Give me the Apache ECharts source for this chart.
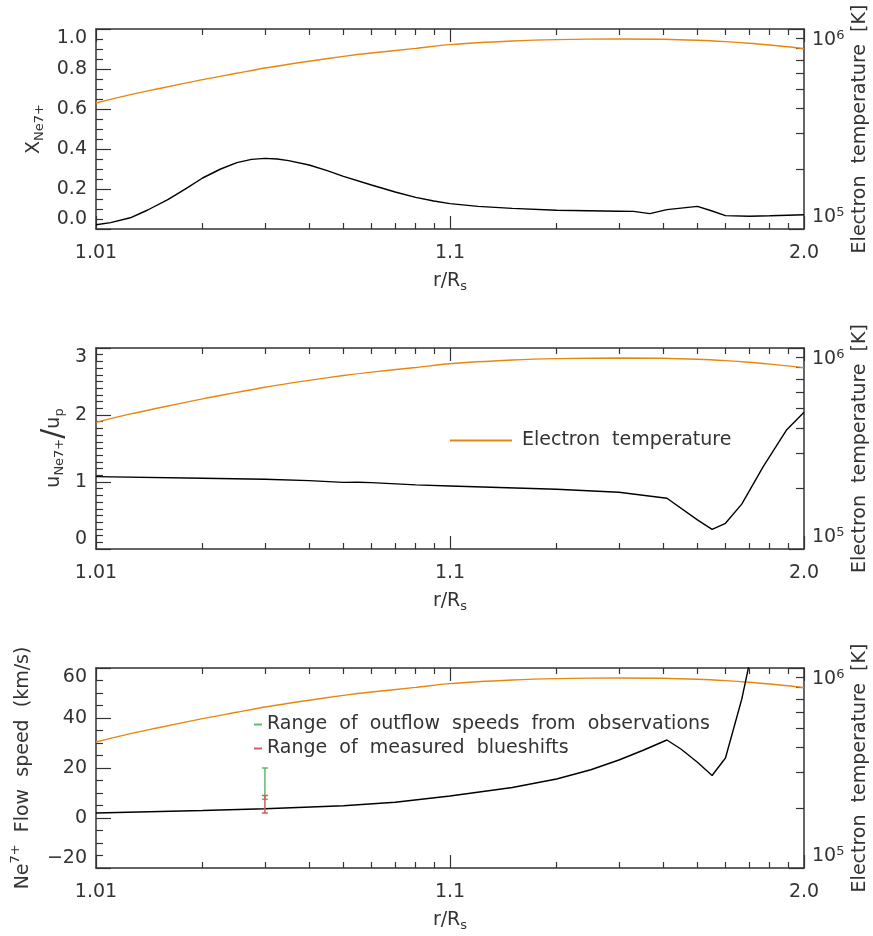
<!DOCTYPE html>
<html><head><meta charset="utf-8">
<script src="https://cdn.jsdelivr.net/npm/echarts@6/dist/echarts.min.js"></script>
<style>html,body{margin:0;padding:0;background:#fff}#c{width:873px;height:936px}</style>
</head><body><div id="c"></div>
<script>
// ---------------- data ----------------
// Electron temperature [K] vs r/Rs (same curve in all three panels)
const rTe = [1.01, 1.0125, 1.015, 1.02, 1.025, 1.03, 1.04, 1.05, 1.06, 1.08, 1.1, 1.15, 1.2, 1.3, 1.4, 1.5, 1.6, 1.7, 1.8, 1.9, 2.0];
const Te  = [426600, 469900, 502900, 558500, 601200, 638300, 690200, 729500, 758600, 799800, 835600, 871000, 885100, 891300, 889200, 879000, 865000, 849200, 831800, 814700, 796200];

// Panel 1: Ne7+ ion fraction
const rX  = [1.01, 1.011, 1.0125, 1.014, 1.016, 1.018, 1.02, 1.0225, 1.025, 1.0275, 1.03, 1.0325, 1.035, 1.04, 1.045, 1.05, 1.06, 1.07, 1.08, 1.09, 1.1, 1.12, 1.15, 1.2, 1.3, 1.33, 1.367, 1.41, 1.5, 1.55, 1.6, 1.7, 1.8, 1.9, 2.0];
const xNe = [0.021, 0.032, 0.056, 0.095, 0.148, 0.203, 0.255, 0.300, 0.332, 0.348, 0.353, 0.350, 0.342, 0.320, 0.292, 0.263, 0.220, 0.185, 0.158, 0.140, 0.127, 0.113, 0.103, 0.094, 0.089, 0.088, 0.077, 0.097, 0.113, 0.090, 0.067, 0.064, 0.066, 0.069, 0.0715];

// Panel 2: u_Ne7+ / u_p
const rU  = [1.01, 1.02, 1.03, 1.04, 1.05, 1.055, 1.06, 1.08, 1.1, 1.2, 1.3, 1.41, 1.5, 1.55, 1.6, 1.667, 1.767, 1.894, 2.0];
const uRatio = [1.08, 1.055, 1.04, 1.02, 0.995, 0.997, 0.99, 0.957, 0.94, 0.892, 0.848, 0.758, 0.434, 0.294, 0.384, 0.67, 1.23, 1.78, 2.04];

// Panel 3: Ne7+ flow speed (km/s)
const rV  = [1.01, 1.02, 1.03, 1.05, 1.07, 1.1, 1.15, 1.2, 1.25, 1.3, 1.35, 1.41, 1.45, 1.5, 1.55, 1.6, 1.667, 1.767];
const vFlow = [2.0, 3.0, 3.7, 4.9, 6.3, 8.8, 12.2, 15.6, 19.3, 23.2, 27.0, 31.2, 27.5, 22.3, 17.0, 24.0, 47.5, 88];

// Observation ranges (error bars) at r = 1.03
const errR = 1.03;
const outflowRange = [7.5, 20];
const blueshiftRange = [2, 9];

// axis ranges / ticks (x axis is logarithmic in r-1)
const xTicksRminus1 = [0.01, 0.1, 1];
const yRanges = [[0, 1, 0.2], [0, 3, 1], [-20, 60, 20]];
const TeRange = [1e5, 1e6];

// ---------------- styling ----------------
const FONT = 'DejaVu Sans';
const TXT = '#333';
const AX = '#333';
const ORANGE = '#E8870E';
const GREEN = '#5DBB6F';
const RED = '#D65A5A';
const LEFT = 96, RIGHT = 69;
const GRIDS = [{top: 29, height: 200}, {top: 348, height: 201}, {top: 668, height: 200}];
const minorSplit = [4, 10, 4];

function xFmt(v) {
  const r = 1 + v;
  return v >= 0.999 ? r.toFixed(1) : String(parseFloat(r.toPrecision(6)));
}
function yFmt(i) {
  return function (v) {
    if (i === 0) return v.toFixed(1);
    if (v < 0) return '\u2212' + Math.abs(v);
    return String(v);
  };
}
const lbl = {fontFamily: FONT, fontSize: 19, color: TXT};
const noDeco = {axisLine: {show: false}, axisTick: {show: false}, minorTick: {show: false}, splitLine: {show: false}, minorSplitLine: {show: false}};
const tickLine = {color: AX, width: 1.2};

const grid = GRIDS.map(g => ({left: LEFT, right: RIGHT, top: g.top, height: g.height}));

// per grid: xAxis [3i] bottom ticks, [3i+1] top ticks, [3i+2] labels
//           yAxis [4i] left ticks, [4i+1] right ticks, [4i+2] left labels, [4i+3] right labels
const xAxis = [];
const yAxis = [];
const xBase = () => ({type: 'log', logBase: 10, min: xTicksRminus1[0], max: xTicksRminus1[xTicksRminus1.length - 1]});
GRIDS.forEach((g, i) => {
  const yr = yRanges[i];
  ['bottom', 'top'].forEach(pos => {
    xAxis.push(Object.assign(xBase(), {
      gridIndex: i, position: pos,
      axisLine: {show: true, onZero: false, lineStyle: {color: AX, width: 1.5}},
      axisTick: {show: true, inside: true, length: 13, lineStyle: tickLine},
      minorTick: {show: true, splitNumber: 9, length: 6, lineStyle: tickLine},
      axisLabel: {show: false},
      splitLine: {show: false}, minorSplitLine: {show: false}
    }));
  });
  xAxis.push(Object.assign(xBase(), noDeco, {
    gridIndex: i, position: 'bottom',
    axisLabel: Object.assign({show: true, margin: 15, formatter: xFmt}, lbl)
  }));

  yAxis.push({
    type: 'value', gridIndex: i, position: 'left', min: yr[0], max: yr[1], interval: yr[2],
    axisLine: {show: true, onZero: false, lineStyle: {color: AX, width: 1.5}},
    axisTick: {show: true, inside: true, length: 15, lineStyle: tickLine},
    minorTick: {show: true, splitNumber: minorSplit[i], length: 7, lineStyle: tickLine},
    axisLabel: {show: false},
    splitLine: {show: false}, minorSplitLine: {show: false}
  });
  yAxis.push({
    type: 'log', logBase: 10, gridIndex: i, position: 'right', min: TeRange[0], max: TeRange[1],
    axisLine: {show: true, onZero: false, lineStyle: {color: AX, width: 1.5}},
    axisTick: {show: true, inside: true, length: 15, lineStyle: tickLine},
    minorTick: {show: true, splitNumber: 9, length: 8, lineStyle: tickLine},
    axisLabel: {show: false},
    splitLine: {show: false}, minorSplitLine: {show: false}
  });
  yAxis.push(Object.assign({type: 'value', gridIndex: i, position: 'left', min: yr[0], max: yr[1], interval: yr[2]}, noDeco, {
    axisLabel: Object.assign({show: true, margin: 9, formatter: yFmt(i),
      verticalAlignMinLabel: 'bottom', verticalAlignMaxLabel: 'top'}, lbl)
  }));
  yAxis.push(Object.assign({type: 'log', logBase: 10, gridIndex: i, position: 'right', min: TeRange[0], max: TeRange[1]}, noDeco, {
    axisLabel: {show: true, margin: 8,
      verticalAlignMinLabel: 'bottom', verticalAlignMaxLabel: 'top',
      formatter: v => '{b|10}{sup|' + Math.round(Math.log10(v)) + '}',
      rich: {b: {fontFamily: FONT, fontSize: 19, color: TXT}, sup: {fontFamily: FONT, fontSize: 13, color: TXT, padding: [0, 0, 10, 0]}}}
  }));
});

const pairs = (rs, vs) => rs.map((r, k) => [r - 1, vs[k]]);
const blackLine = {color: '#000', width: 1.4};

function errBar(color) {
  return function (params, api) {
    const x = api.value(0);
    const lo = api.coord([x, api.value(1)]);
    const hi = api.coord([x, api.value(2)]);
    const w = 3;
    const st = {stroke: color, lineWidth: 1.5};
    return {type: 'group', children: [
      {type: 'line', shape: {x1: lo[0], y1: lo[1], x2: hi[0], y2: hi[1]}, style: st},
      {type: 'line', shape: {x1: lo[0] - w, y1: lo[1], x2: lo[0] + w, y2: lo[1]}, style: st},
      {type: 'line', shape: {x1: hi[0] - w, y1: hi[1], x2: hi[0] + w, y2: hi[1]}, style: st}
    ]};
  };
}

const series = [];
const blackData = [pairs(rX, xNe), pairs(rU, uRatio), pairs(rV, vFlow)];
GRIDS.forEach((g, i) => {
  series.push({type: 'line', name: 'Electron  temperature', xAxisIndex: 3 * i, yAxisIndex: 4 * i + 1,
    data: pairs(rTe, Te), smooth: 0.3, showSymbol: false, symbol: 'none', lineStyle: {color: ORANGE, width: 1.4}, itemStyle: {color: ORANGE}, z: 3});
  series.push({type: 'line', name: 'model' + i, xAxisIndex: 3 * i, yAxisIndex: 4 * i,
    data: blackData[i], smooth: false, showSymbol: false, symbol: 'none', lineStyle: blackLine, itemStyle: {color: '#000'}, clip: true, z: 4});
});
const NAME_OUT = 'Range  of  outflow  speeds  from  observations';
const NAME_BLUE = 'Range  of  measured  blueshifts';
series.push({type: 'custom', name: NAME_OUT, xAxisIndex: 6, yAxisIndex: 8,
  itemStyle: {color: GREEN}, data: [[errR - 1, outflowRange[0], outflowRange[1]]], encode: {x: 0, y: [1, 2]}, renderItem: errBar(GREEN), z: 5});
series.push({type: 'custom', name: NAME_BLUE, xAxisIndex: 6, yAxisIndex: 8,
  itemStyle: {color: RED}, data: [[errR - 1, blueshiftRange[0], blueshiftRange[1]]], encode: {x: 0, y: [1, 2]}, renderItem: errBar(RED), z: 6});

const legendText = {fontFamily: FONT, fontSize: 19, color: TXT};
const legend = [
  {data: ['Electron  temperature'], left: 450, top: 431, padding: 0, itemWidth: 62, itemHeight: 2, icon: 'rect', selectedMode: false,
    textStyle: Object.assign({padding: [0, 0, 0, 5]}, legendText)},
  {data: [NAME_OUT, NAME_BLUE], orient: 'vertical', left: 254, top: 715, padding: 0,
    itemWidth: 8, itemHeight: 2, itemGap: 5, icon: 'rect', selectedMode: false, textStyle: legendText}
];

const m = {fontFamily: FONT, fontSize: 19, fill: TXT};
const s = {fontFamily: FONT, fontSize: 13, fill: TXT, padding: [12, 0, 0, 0]};
const sup = {fontFamily: FONT, fontSize: 13, fill: TXT, padding: [0, 0, 14, 0]};
const sl = {fontFamily: FONT, fontSize: 30, fill: TXT};
function txt(x, y, text, rot) {
  return {type: 'text', x: x, y: y, rotation: rot ? Math.PI / 2 : 0, z: 10,
    style: {text: text, align: 'center', verticalAlign: 'middle', rich: {m: m, s: s, sup: sup, sl: sl}}};
}
const graphic = [];
const nameCenters = [[34, 129], [54, 448], [23, 768]];
const leftNames = ['{m|X}{s|Ne7+}', '{m|u}{s|Ne7+}{sl|/}{m|u}{s|p}', '{m|Ne}{sup|7+}{m|  Flow  speed  (km/s)}'];
GRIDS.forEach((g, i) => {
  graphic.push(txt(450, g.top + g.height + 52, '{m|r/R}{s|s}', false));
  graphic.push(txt(nameCenters[i][0], nameCenters[i][1], leftNames[i], true));
  graphic.push(txt(860, g.top + g.height / 2, '{m|Electron  temperature  [K]}', true));
});

const chart = echarts.init(document.getElementById('c'), null, {renderer: 'canvas'});
chart.setOption({animation: false, backgroundColor: '#fff', grid, xAxis, yAxis, series, legend, graphic});
</script>
</body></html>
